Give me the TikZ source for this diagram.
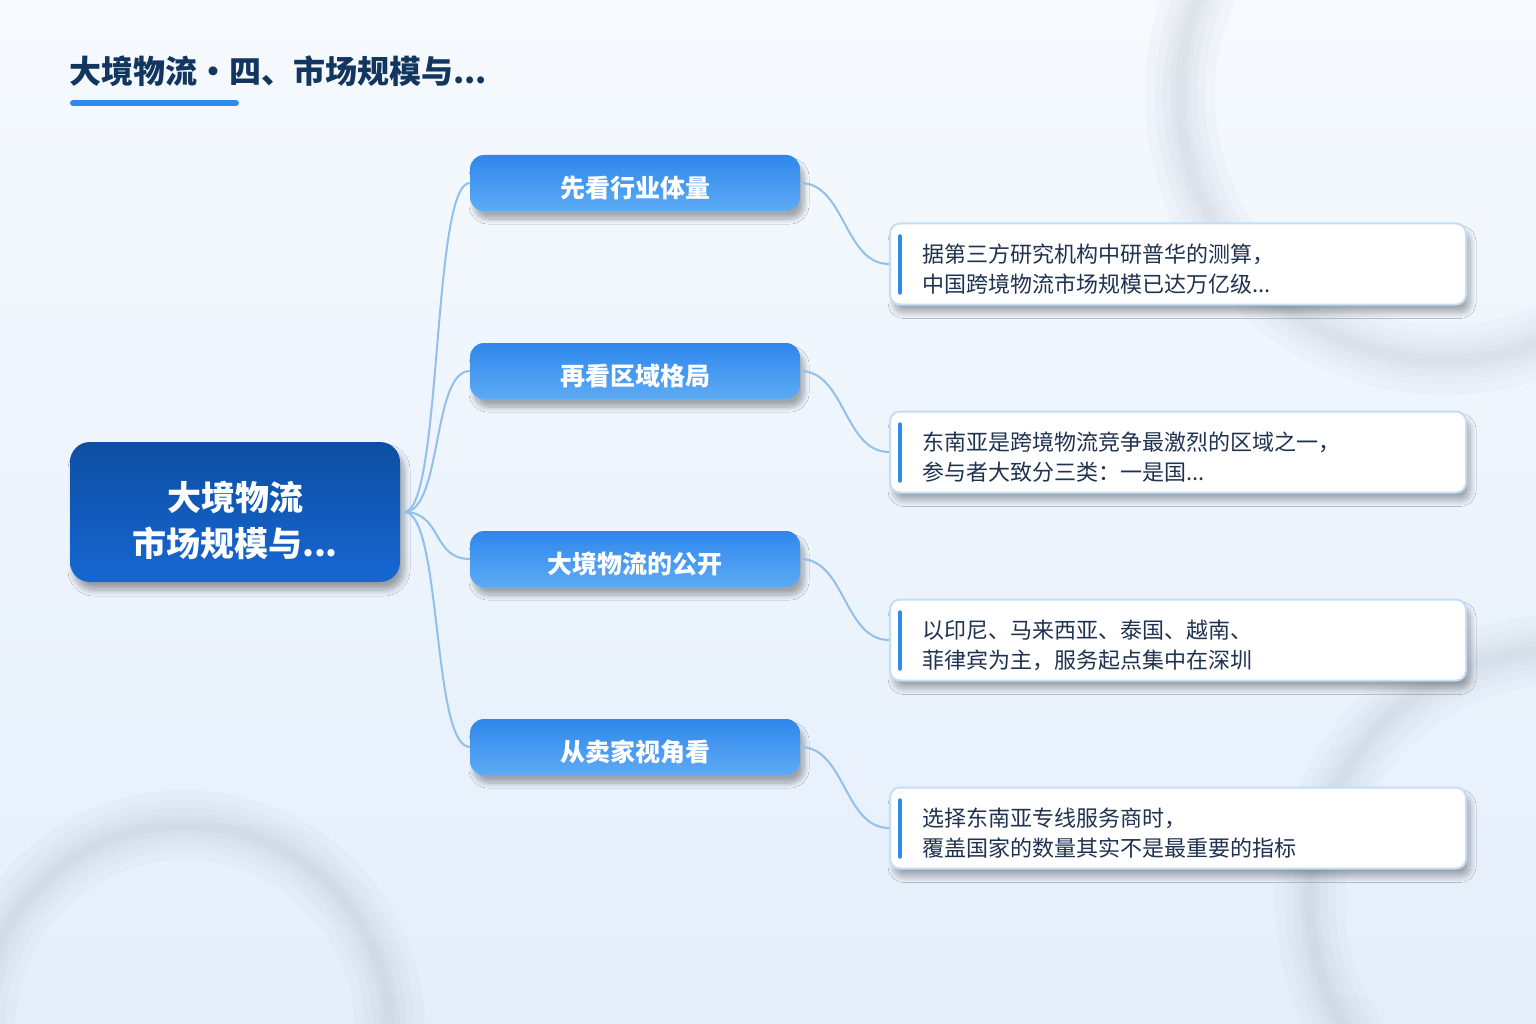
\documentclass[tikz,border=0pt]{standalone}
\usepackage{fontspec}
\setmainfont{Noto Sans CJK SC}
\newfontfamily\cjk{Noto Sans CJK SC}
\usetikzlibrary{shadows,shadows.blur}
\definecolor{bgtop}{HTML}{F6FAFE}
\definecolor{bgbot}{HTML}{E4EEFB}
\definecolor{titlec}{HTML}{12365F}
\definecolor{accent}{HTML}{2F8BEB}
\definecolor{roott}{HTML}{0D4EA2}
\definecolor{rootb}{HTML}{1667D3}
\definecolor{brt}{HTML}{2F87EB}
\definecolor{brb}{HTML}{5DABF5}
\definecolor{leafborder}{HTML}{C3DEF7}
\definecolor{leaftext}{HTML}{1F3250}
\definecolor{linkc}{HTML}{93C0EA}
\definecolor{ringc}{HTML}{8A96A8}
\tikzset{
  rootbox/.style={rounded corners=20pt, minimum width=330pt, minimum height=140pt,
    top color=roott, bottom color=rootb, draw=none,
    blur shadow={shadow xshift=4pt, shadow yshift=-8pt, shadow opacity=35, shadow blur radius=6pt, shadow blur steps=12}},
  roottext/.style={text=white, align=center, inner sep=0pt,
    font=\cjk\bfseries\fontsize{34}{46}\selectfont},
  branchbox/.style={rounded corners=14pt, minimum width=330pt, minimum height=56pt,
    top color=brt, bottom color=brb, draw=none,
    blur shadow={shadow xshift=4pt, shadow yshift=-8pt, shadow opacity=32, shadow blur radius=5pt, shadow blur steps=12}},
  branchtext/.style={text=white, align=center, inner sep=0pt,
    font=\cjk\bfseries\fontsize{25}{30}\selectfont},
  leafbox/.style={rounded corners=10pt, minimum width=576pt, minimum height=81pt,
    fill=white, draw=leafborder, line width=2pt,
    blur shadow={shadow xshift=4pt, shadow yshift=-8pt, shadow opacity=32, shadow blur radius=6pt, shadow blur steps=12}},
  leaftextst/.style={text=leaftext, text width=520pt, align=left, inner sep=0pt,
    font=\cjk\fontsize{22}{30}\selectfont},
  accentbar/.style={draw=accent, line width=4.5pt, line cap=round},
  link/.style={draw=linkc, line width=2pt},
  ring/.style={draw=ringc, opacity=0.045},
}
\begin{document}
\begin{tikzpicture}[x=1pt,y=-1pt]
\useasboundingbox (0,0) rectangle (1536,1024);
\shade[top color=bgtop, bottom color=bgbot] (0,0) rectangle (1536,1024);
\begin{scope}
\clip (0,0) rectangle (1536,1024);
\foreach \w in {70,50,34,20,10} {
  \draw[ring, line width=\w pt] (1445,95) circle (265);
  \draw[ring, line width=\w pt] (185,1030) circle (205);
  \draw[ring, line width=\w pt] (1560,900) circle (250);
}
\end{scope}
% title
\node[anchor=west, inner sep=0pt, text=titlec, font=\cjk\bfseries\fontsize{32}{36}\selectfont] (title) at (69,71) {大境物流・四、市场规模与...};
\coordinate (ul1) at (73,103);
\coordinate (ul2) at (236,103);
\draw[accentbar, line width=6pt] (ul1) -- (ul2);
% root
\node[rootbox] (root) at (235,512) {};
\node[roottext] (roott) at ([yshift=-8pt]root.center) {大境物流\\市场规模与...};
% branches
\node[branchbox] (b1) at (635,183) {};
\node[branchbox] (b2) at (635,371) {};
\node[branchbox] (b3) at (635,559) {};
\node[branchbox] (b4) at (635,747) {};
\node[branchtext] (t1) at ([yshift=-5pt]b1.center) {先看行业体量};
\node[branchtext] (t2) at ([yshift=-5pt]b2.center) {再看区域格局};
\node[branchtext] (t3) at ([yshift=-5pt]b3.center) {大境物流的公开};
\node[branchtext] (t4) at ([yshift=-5pt]b4.center) {从卖家视角看};
% leaves
\node[leafbox] (l1) at (1178,264) {};
\node[leafbox] (l2) at (1178,452) {};
\node[leafbox] (l3) at (1178,640) {};
\node[leafbox] (l4) at (1178,828) {};
\node[leaftextst] (lt1) at ([xshift=4pt,yshift=-5pt]l1.center) {据第三方研究机构中研普华的测算，\\中国跨境物流市场规模已达万亿级...};
\node[leaftextst] (lt2) at ([xshift=4pt,yshift=-5pt]l2.center) {东南亚是跨境物流竞争最激烈的区域之一，\\参与者大致分三类：一是国...};
\node[leaftextst] (lt3) at ([xshift=4pt,yshift=-5pt]l3.center) {以印尼、马来西亚、泰国、越南、\\菲律宾为主，服务起点集中在深圳};
\node[leaftextst] (lt4) at ([xshift=4pt,yshift=-5pt]l4.center) {选择东南亚专线服务商时，\\覆盖国家的数量其实不是最重要的指标};
\foreach \l in {l1,l2,l3,l4} {
  \draw[accentbar] ([xshift=11pt,yshift=-14pt]\l.north west) -- ([xshift=11pt,yshift=13pt]\l.south west);
}
% links root -> branches
\foreach \b in {b1,b2,b3,b4} {
  \draw[link] ([xshift=4pt]root.east) .. controls +(38,0) and +(-38,0) .. (\b.west);
}
% links branches -> leaves
\foreach \b/\l in {b1/l1,b2/l2,b3/l3,b4/l4} {
  \draw[link] (\b.east) .. controls +(45,0) and +(-45,0) .. (\l.west);
}
\end{tikzpicture}
\end{document}
